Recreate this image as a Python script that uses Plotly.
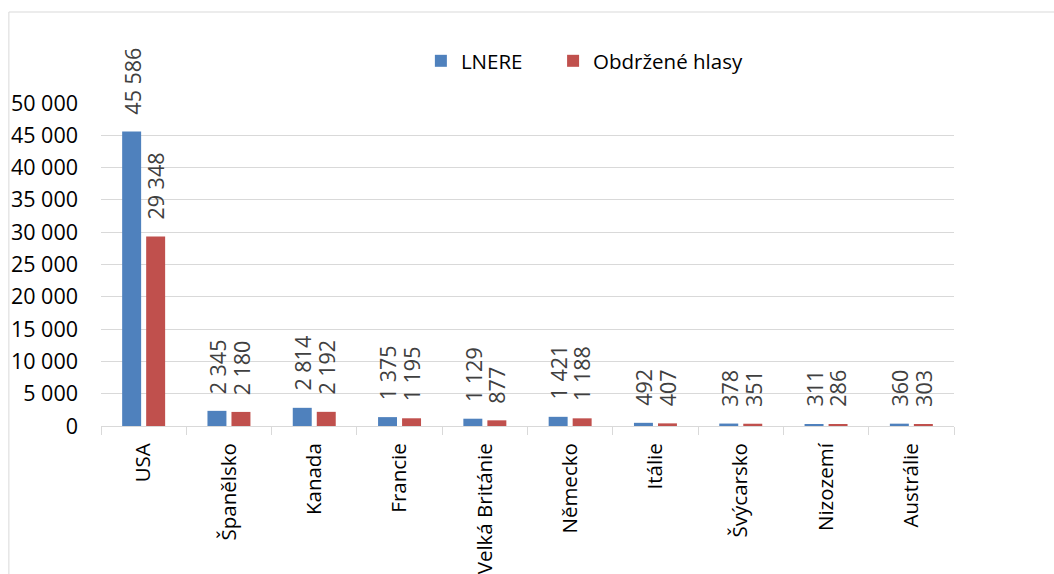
import plotly.graph_objects as go

categories = ["USA", "Španělsko", "Kanada", "Francie", "Velká Británie",
              "Německo", "Itálie", "Švýcarsko", "Nizozemí", "Austrálie"]
lnere = [45586, 2345, 2814, 1375, 1129, 1421, 492, 378, 311, 360]
hlasy = [29348, 2180, 2192, 1195, 877, 1188, 407, 351, 286, 303]
series_names = ["LNERE", "Obdržené hlasy"]
colors = ["#4F81BD", "#C0504D"]

FONT = "Open Sans"


def fmt(v):
    return f"{v:,}".replace(",", " ")


fig = go.Figure()
for i, (name, vals, col) in enumerate(zip(series_names, [lnere, hlasy], colors)):
    fig.add_trace(go.Bar(x=categories, y=vals, name=name,
                         legend="legend" if i == 0 else "legend2",
                         marker=dict(color=col, line=dict(width=0))))

annotations = []
for vals, shift in [(lnere, -12), (hlasy, 12)]:
    for c, v in zip(categories, vals):
        annotations.append(dict(x=c, y=v, xref="x", yref="y", text=fmt(v),
                                showarrow=False, textangle=-90,
                                xanchor="center", yanchor="bottom",
                                xshift=shift, yshift=15,
                                font=dict(family=FONT, size=21.5, color="#404040")))

legend_common = dict(orientation="h", xanchor="left", yanchor="top", y=1.192,
                     font=dict(family=FONT, size=20.5, color="black"),
                     bgcolor="rgba(0,0,0,0)")

fig.update_layout(
    width=1054, height=574,
    margin=dict(l=101, r=100, t=103, b=148, autoexpand=False),
    paper_bgcolor="white", plot_bgcolor="white",
    separators=", ",
    barmode="group", bargap=0.437, bargroupgap=0.21,
    font=dict(family=FONT, size=20, color="black"),
    annotations=annotations,
    showlegend=True,
    legend=dict(x=0.375, **legend_common),
    legend2=dict(x=0.53, **legend_common),
    shapes=[dict(type="rect", xref="paper", yref="paper",
                 x0=-0.108, x1=1.2, y0=-0.6, y1=1.2817,
                 line=dict(color="#d9d9d9", width=1), layer="below")],
)
fig.update_xaxes(type="category", showgrid=False, showline=True, linecolor="#d9d9d9",
                 linewidth=1, ticks="outside", tickson="boundaries", ticklen=8,
                 tickcolor="#d9d9d9", tickangle=-90, ticklabelstandoff=8,
                 automargin=False,
                 tickfont=dict(family=FONT, size=20.5, color="black"))
fig.update_yaxes(range=[0, 50000], dtick=5000, tickformat=",d", showgrid=True,
                 gridcolor="#d9d9d9", gridwidth=1, zeroline=False, showline=False,
                 ticks="", ticklabelstandoff=22, automargin=False,
                 tickfont=dict(family=FONT, size=21.5, color="black"))

fig.write_html("out.html", config={"displayModeBar": False},
               post_script="document.body.style.margin='0';")
